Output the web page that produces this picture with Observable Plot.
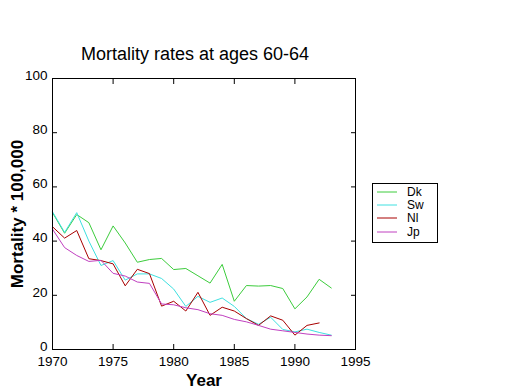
<!DOCTYPE html>
<html>
<head>
<meta charset="utf-8">
<script src="https://cdn.jsdelivr.net/npm/d3@7"></script>
<script src="https://cdn.jsdelivr.net/npm/@observablehq/plot@0.6"></script>
<style>
  body { margin: 0; background: #fff; }
  #wrap { position: relative; width: 520px; height: 390px; background: #fff; }
  #legend { position: absolute; left: 372px; top: 183px; width: 66px; height: 60px;
            border: 1px solid #000; box-sizing: border-box; background: #fff;
            padding-top: 1px; font: 12px "Liberation Sans", Arial, sans-serif; }
  .row { display: flex; align-items: center; height: 13.3px; }
  .row svg { margin-left: 4px; margin-right: 10px; }
</style>
</head>
<body>
<div id="wrap"></div>
<script>
const years = [1970,1971,1972,1973,1974,1975,1976,1977,1978,1979,1980,1981,1982,1983,1984,1985,1986,1987,1988,1989,1990,1991,1992,1993];
const countries = ["Dk", "Sw", "Nl", "Jp"];
const colors = ["#3ccc3c", "#3ee0e0", "#a80000", "#c040c0"];
const dk = [50.5,42.9,49.8,46.8,36.8,45.6,39.3,32.2,33.2,33.6,29.5,29.9,27.2,24.5,31.4,17.8,23.6,23.4,23.6,22.5,15.0,19.4,25.9,22.7];
const sw = [50.8,43.2,50.5,40.0,31.0,32.8,25.6,27.9,27.9,26.2,22.3,15.9,19.6,17.4,19.0,15.9,11.4,9.3,11.9,7.4,6.5,7.5,6.3,5.3];
const nl = [45.3,41.1,43.9,33.5,32.8,31.6,23.5,29.6,28.0,16.0,17.8,14.2,21.1,12.6,15.6,14.2,11.4,8.9,12.4,10.8,5.3,8.9,9.8];
const jp = [44.4,37.6,34.7,32.5,32.9,28.1,27.1,24.9,24.4,16.8,16.5,15.4,14.7,13.2,12.6,11.1,10.2,8.9,7.5,6.9,6.3,5.7,5.3,5.1];
const xTicks = [1970,1975,1980,1985,1990,1995];
const yTicks = [0,20,40,60,80,100];
const title = "Mortality rates at ages 60-64";
const xLabel = "Year";
const yLabel = "Mortality * 100,000";

const seriesValues = [dk, sw, nl, jp];
const rows = [];
countries.forEach((c, i) => seriesValues[i].forEach((v, j) => rows.push({country: c, year: years[j], value: v})));

const tickFont = {fontFamily: "'Liberation Sans', Arial, sans-serif", fontSize: 13.5};

const chart = Plot.plot({
  width: 520, height: 390,
  marginLeft: 52, marginRight: 165, marginTop: 78, marginBottom: 41,
  style: {fontFamily: "'Liberation Sans', Arial, sans-serif", background: "#fff", color: "#000"},
  x: {domain: [1970, 1995]},
  y: {domain: [0, 100]},
  color: {domain: countries, range: colors},
  marks: [
    Plot.lineY(rows, {x: "year", y: "value", z: "country", stroke: "country", strokeWidth: 1}),
    Plot.frame({stroke: "#000", strokeWidth: 1}),
    Plot.axisX(xTicks, {anchor: "bottom", tickSize: 0, tickPadding: 7, tickFormat: d => String(d), label: null, ...tickFont}),
    Plot.axisY(yTicks, {anchor: "left", tickSize: 0, tickPadding: 5, dy: -3, label: null, ...tickFont}),
    Plot.axisX(xTicks, {anchor: "bottom", tickSize: -5, text: null, label: null}),
    Plot.axisX(xTicks, {anchor: "top", tickSize: -5, text: null, label: null}),
    Plot.axisY(yTicks, {anchor: "left", tickSize: -5, text: null, label: null}),
    Plot.axisY(yTicks, {anchor: "right", tickSize: -5, text: null, label: null}),
    Plot.text([title], {frameAnchor: "top", dx: -9, dy: -19, fontSize: 18, lineAnchor: "bottom"}),
    Plot.text([xLabel], {frameAnchor: "bottom", dy: 36, fontSize: 17, fontWeight: "bold", lineAnchor: "bottom"}),
    Plot.text([yLabel], {frameAnchor: "left", dx: -35, rotate: -90, textAnchor: "middle", fontSize: 17, fontWeight: "bold"})
  ]
});

const wrap = document.getElementById("wrap");
wrap.appendChild(chart);

const legend = document.createElement("div");
legend.id = "legend";
countries.forEach((c, i) => {
  const row = document.createElement("div");
  row.className = "row";
  row.innerHTML = `<svg width="20" height="4"><line x1="0" x2="20" y1="2" y2="2" stroke="${colors[i]}" stroke-width="1"/></svg><span>${c}</span>`;
  legend.appendChild(row);
});
wrap.appendChild(legend);
</script>
</body>
</html>
